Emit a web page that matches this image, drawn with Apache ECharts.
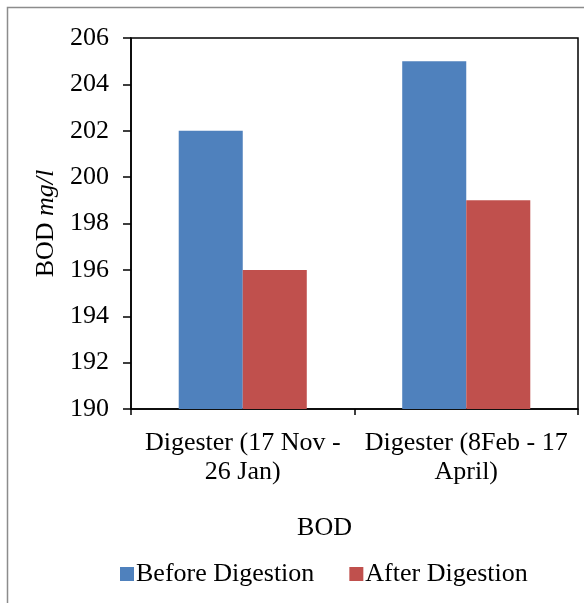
<!DOCTYPE html>
<html>
<head>
<meta charset="utf-8">
<script src="https://cdn.jsdelivr.net/npm/echarts@6/dist/echarts.min.js"></script>
<style>
  html, body { margin: 0; padding: 0; background: #fff; }
  #chart { width: 584px; height: 603px; }
</style>
</head>
<body>
<div id="chart"></div>
<script>
// BOD before and after digestion for two digester runs
const categories = ['Digester (17 Nov -\n26 Jan)', 'Digester (8Feb - 17\nApril)'];
const beforeDigestion = [202, 205];
const afterDigestion = [196, 199];
const seriesNames = ['Before Digestion', 'After Digestion'];

const FONT = "'Liberation Serif', 'Times New Roman', serif";
const chart = echarts.init(document.getElementById('chart'), null, { renderer: 'canvas' });

chart.setOption({
  animation: false,
  backgroundColor: '#fff',
  textStyle: { fontFamily: FONT, color: '#000' },
  graphic: [{
    type: 'rect',
    shape: { x: 7.5, y: 7.5, width: 600, height: 620 },
    style: { fill: 'none', stroke: '#8c8c8c', lineWidth: 1.5 },
    silent: true
  }],
  grid: {
    left: 131, top: 38, right: 6, bottom: 194,
    show: true, borderColor: '#000', borderWidth: 1.5
  },
  legend: {
    left: 115, top: 556,
    itemWidth: 14, itemHeight: 14, itemGap: 35,
    icon: 'rect',
    textStyle: { fontFamily: FONT, fontSize: 26, color: '#000', padding: [0, 0, 0, -3] },
    data: seriesNames
  },
  xAxis: {
    type: 'category',
    data: categories,
    name: 'BOD',
    nameLocation: 'middle',
    nameGap: 106,
    nameTextStyle: { fontFamily: FONT, fontSize: 26, color: '#000', padding: [0, 60, 0, 0] },
    axisLine: { lineStyle: { color: '#000', width: 1.5 } },
    axisTick: { show: true, length: 6, lineStyle: { color: '#000', width: 1.5 } },
    axisLabel: {
      fontFamily: FONT, fontSize: 26, color: '#000', lineHeight: 29,
      margin: 20, interval: 0, align: 'center'
    }
  },
  yAxis: {
    type: 'value',
    min: 190, max: 206, interval: 2,
    name: '{n|BOD }{i|mg/l}',
    nameLocation: 'middle',
    nameRotate: 90,
    nameGap: 72,
    nameTextStyle: {
      rich: {
        n: { fontFamily: FONT, fontSize: 26, color: '#000' },
        i: { fontFamily: FONT, fontSize: 26, color: '#000', fontStyle: 'italic' }
      }
    },
    axisLine: { show: true, lineStyle: { color: '#000', width: 1.5 } },
    axisTick: { show: true, length: 8, lineStyle: { color: '#000', width: 1.5 } },
    axisLabel: { fontFamily: FONT, fontSize: 26, color: '#000', margin: 22 },
    splitLine: { show: false }
  },
  series: [
    {
      name: seriesNames[0], type: 'bar', data: beforeDigestion,
      barGap: '0%', barCategoryGap: '42.7%',
      itemStyle: { color: '#4F81BD' }
    },
    {
      name: seriesNames[1], type: 'bar', data: afterDigestion,
      barGap: '0%', barCategoryGap: '42.7%',
      itemStyle: { color: '#C0504D' }
    }
  ]
});
</script>
</body>
</html>
